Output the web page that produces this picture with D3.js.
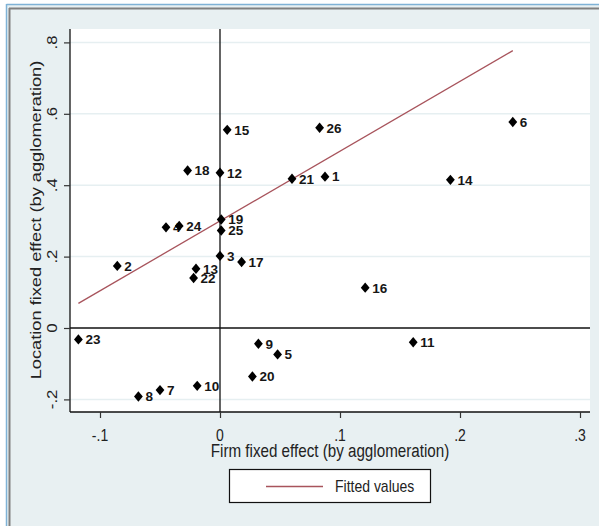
<!DOCTYPE html>
<html>
<head>
<meta charset="utf-8">
<script src="https://cdn.jsdelivr.net/npm/d3@7"></script>
<style>
  html, body { margin: 0; padding: 0; background: #ffffff; }
  svg { display: block; font-family: "Liberation Sans", Arial, sans-serif; }
</style>
</head>
<body>
<svg id="chart" width="599" height="526"></svg>
<script>
// Agglomeration identifiers and their estimated fixed effects
const agglomerations = [1, 2, 3, 4, 5, 6, 7, 8, 9, 10, 11, 12, 13, 14, 15, 16, 17, 18, 19, 20, 21, 22, 23, 24, 25, 26];
const firmEffect = [0.0875, -0.0856, 0.000, -0.045, 0.048, 0.244, -0.050, -0.068, 0.032, -0.019, 0.161, 0.000, -0.020, 0.192, 0.006, 0.121, 0.018, -0.027, 0.001, 0.027, 0.060, -0.022, -0.118, -0.034, 0.001, 0.083];
const locationEffect = [0.424, 0.174, 0.202, 0.282, -0.074, 0.577, -0.174, -0.192, -0.044, -0.162, -0.040, 0.435, 0.166, 0.415, 0.555, 0.113, 0.185, 0.441, 0.304, -0.136, 0.418, 0.140, -0.032, 0.286, 0.273, 0.561];

// Linear fit, drawn over the observed range of the firm effect
const fitX = [-0.118, 0.244];
const fitY = [0.069, 0.777];

const xTicks = [-0.1, 0, 0.1, 0.2, 0.3];
const xTickLabels = ["-.1", "0", ".1", ".2", ".3"];
const yTicks = [-0.2, 0, 0.2, 0.4, 0.6, 0.8];
const yTickLabels = ["-.2", "0", ".2", ".4", ".6", ".8"];

const svg = d3.select("#chart");
const W = 599, H = 526;
const plot = { left: 70, right: 590, top: 29, bottom: 412 };
const stretch = 1.2;   // vertical stretch of the exported graph
const fitColor = "#a8545c";

const x = d3.scaleLinear().domain([-0.1, 0.3]).range([100, 580]);
const y = d3.scaleLinear().domain([-0.2, 0.8]).range([399.4, 42.4]);

// Window frame and graph background
svg.append("rect").attr("x", 0).attr("y", 0).attr("width", W).attr("height", H).attr("fill", "#ffffff");
svg.append("rect").attr("x", 6).attr("y", 4).attr("width", W - 6).attr("height", H - 4).attr("fill", "#e8f0f2");
svg.append("line").attr("x1", 6.5).attr("x2", W).attr("y1", 4.5).attr("y2", 4.5).attr("stroke", "#7fb2d6").attr("stroke-width", 1.5);
svg.append("line").attr("x1", 6.5).attr("x2", 6.5).attr("y1", 4).attr("y2", H).attr("stroke", "#7fb2d6").attr("stroke-width", 1.5);
svg.append("line").attr("x1", 9).attr("x2", W).attr("y1", 8.5).attr("y2", 8.5).attr("stroke", "#808080").attr("stroke-width", 2);
svg.append("line").attr("x1", 9.5).attr("x2", 9.5).attr("y1", 8).attr("y2", H).attr("stroke", "#808080").attr("stroke-width", 2);
// tail of the window caption above the frame
svg.append("text").attr("x", 436).attr("y", -3).attr("font-size", 15).attr("fill", "#000").text("g");

// Plot region
svg.append("rect")
  .attr("x", plot.left).attr("y", plot.top)
  .attr("width", plot.right - plot.left).attr("height", plot.bottom - plot.top)
  .attr("fill", "#ffffff");

// Horizontal grid lines
svg.append("g").selectAll("line")
  .data(yTicks.filter(d => d !== 0))
  .join("line")
  .attr("x1", plot.left).attr("x2", plot.right)
  .attr("y1", d => y(d)).attr("y2", d => y(d))
  .attr("stroke", "#e6eff1").attr("stroke-width", 1.5);

// Reference lines at zero
svg.append("line")
  .attr("x1", plot.left).attr("x2", plot.right)
  .attr("y1", y(0)).attr("y2", y(0))
  .attr("stroke", "#111").attr("stroke-width", 1.3);
svg.append("line")
  .attr("x1", x(0)).attr("x2", x(0))
  .attr("y1", plot.top).attr("y2", plot.bottom)
  .attr("stroke", "#111").attr("stroke-width", 1.3);

// Axes
const yAxis = d3.axisLeft(y).tickValues(yTicks).tickSize(6).tickFormat("");
const gy = svg.append("g").attr("transform", `translate(${plot.left},0)`).call(yAxis);
gy.select(".domain").attr("d", `M0,${plot.top}V${plot.bottom}`).attr("stroke", "#111").attr("stroke-width", 1.3);
gy.selectAll(".tick line").attr("stroke", "#333").attr("stroke-width", 1.2);

const xAxis = d3.axisBottom(x).tickValues(xTicks).tickSize(6).tickFormat("");
const gx = svg.append("g").attr("transform", `translate(0,${plot.bottom})`).call(xAxis);
gx.select(".domain").attr("d", `M${plot.left},0H${plot.right}`).attr("stroke", "#111").attr("stroke-width", 1.3);
gx.selectAll(".tick line").attr("stroke", "#333").attr("stroke-width", 1.2);

// Tick labels (y labels run upward)
svg.append("g").selectAll("text")
  .data(yTicks)
  .join("text")
  .attr("transform", (d) => `translate(57,${y(d)}) scale(1,${stretch}) rotate(-90)`)
  .attr("text-anchor", "middle")
  .attr("font-size", 14)
  .attr("fill", "#222")
  .text((d, i) => yTickLabels[i]);

svg.append("g").selectAll("text")
  .data(xTicks)
  .join("text")
  .attr("transform", (d) => `translate(${x(d)},${441}) scale(1,${stretch})`)
  .attr("text-anchor", "middle")
  .attr("font-size", 14)
  .attr("fill", "#222")
  .text((d, i) => xTickLabels[i]);

// Axis titles
svg.append("text")
  .attr("transform", `translate(${(plot.left + plot.right) / 2},${457}) scale(1,${stretch})`)
  .attr("text-anchor", "middle")
  .attr("font-size", 15.2)
  .attr("fill", "#222")
  .text("Firm fixed effect (by agglomeration)");

svg.append("text")
  .attr("transform", `translate(41,${220}) scale(1,${stretch}) rotate(-90)`)
  .attr("text-anchor", "middle")
  .attr("font-size", 15.2)
  .attr("fill", "#222")
  .text("Location fixed effect (by agglomeration)");

// Fitted line
svg.append("path")
  .datum(fitX.map((v, i) => [v, fitY[i]]))
  .attr("d", d3.line().x(d => x(d[0])).y(d => y(d[1])))
  .attr("fill", "none")
  .attr("stroke", fitColor)
  .attr("stroke-width", 1.3);

const points = agglomerations.map((id, i) => ({ id, fx: firmEffect[i], lx: locationEffect[i] }));

// Point labels, to the right of each marker
svg.append("g").selectAll("text")
  .data(points)
  .join("text")
  .attr("x", d => x(d.fx) + 7)
  .attr("y", d => y(d.lx))
  .attr("dy", "0.36em")
  .attr("font-size", 13.5)
  .attr("font-weight", "bold")
  .attr("fill", "#161616")
  .text(d => d.id);

// Diamond markers
const diamond = "M0,-5.2L4.4,0L0,5.2L-4.4,0Z";
svg.append("g").selectAll("path")
  .data(points)
  .join("path")
  .attr("transform", d => `translate(${x(d.fx)},${y(d.lx)})`)
  .attr("d", diamond)
  .attr("fill", "#000");

// Legend
const legend = svg.append("g").attr("transform", "translate(229,469)");
legend.append("rect").attr("x", 0.5).attr("y", 0.5).attr("width", 201).attr("height", 33)
  .attr("fill", "#ffffff").attr("stroke", "#111").attr("stroke-width", 1.2);
legend.append("line").attr("x1", 37).attr("x2", 94).attr("y1", 17.5).attr("y2", 17.5)
  .attr("stroke", fitColor).attr("stroke-width", 1.3);
legend.append("text")
  .attr("transform", `translate(106,${23}) scale(1,${stretch})`)
  .attr("font-size", 14)
  .attr("fill", "#222")
  .text("Fitted values");
</script>
</body>
</html>
